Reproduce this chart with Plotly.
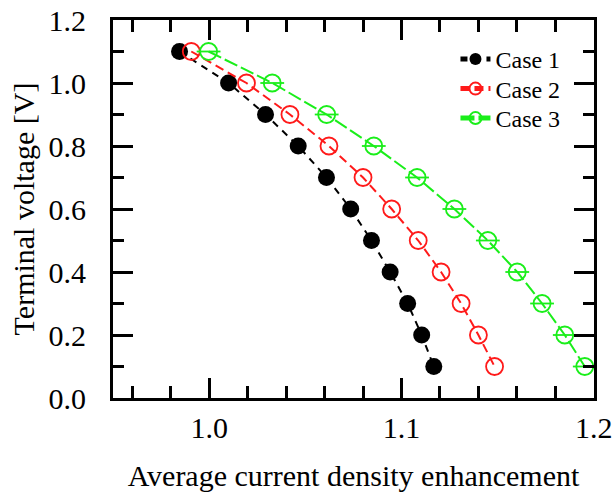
import plotly.graph_objects as go

voltage = [1.1, 1.0, 0.9, 0.8, 0.7, 0.6, 0.5, 0.4, 0.3, 0.2, 0.1]
case1 = [0.9846, 1.0101, 1.0293, 1.0463, 1.0610, 1.0736, 1.0844, 1.0941, 1.1032, 1.1105, 1.1168]
case2 = [0.9907, 1.0194, 1.0420, 1.0623, 1.0800, 1.0949, 1.1087, 1.1206, 1.1310, 1.1400, 1.1484]
case3 = [0.9997, 1.0328, 1.0611, 1.0856, 1.1081, 1.1275, 1.1449, 1.1602, 1.1731, 1.1849, 1.1953]

FONT = "Liberation Serif"

fig = go.Figure()
fig.add_trace(go.Scatter(
    x=case1, y=voltage, name="Case 1", mode="lines+markers", legend="legend",
    line=dict(color="black", width=2, dash="7px,6px"),
    marker=dict(symbol="circle", size=17, color="black"),
))
fig.add_trace(go.Scatter(
    x=case2, y=voltage, name="Case 2", mode="lines+markers", legend="legend2",
    line=dict(color="#ff1a1a", width=2, dash="9px,5px"),
    marker=dict(symbol="circle-open", size=17, color="#ff1a1a", line=dict(width=1.8)),
))
fig.add_trace(go.Scatter(
    x=case3, y=voltage, name="Case 3", mode="lines+markers", legend="legend3",
    line=dict(color="#1aee1a", width=2, dash="14px,4px"),
    marker=dict(symbol="circle-open", size=17, color="#1aee1a", line=dict(width=1.8)),
))
fig.add_trace(go.Scatter(
    x=case3, y=voltage, name="Case 3", mode="markers", showlegend=False,
    marker=dict(symbol="line-ew-open", size=17, color="#1aee1a", line=dict(width=1.8, color="#1aee1a")),
))

axis_common = dict(
    showline=True, linecolor="black", linewidth=3, mirror="ticks",
    ticks="inside", ticklen=20, tickwidth=3, tickcolor="black",
    showgrid=False, zeroline=False, automargin=False,
    ticklabeloverflow="allow",
    tickfont=dict(family=FONT, size=30, color="black"),
)

fig.update_xaxes(
    range=[0.95, 1.2001], tickvals=[1.0, 1.1, 1.2], ticktext=["1.0", "1.1", "1.2"],
    minor=dict(dtick=0.02, tick0=0.0, ticks="inside", ticklen=12, tickwidth=3, tickcolor="black"),
    title=dict(text="Average current density enhancement", font=dict(family=FONT, size=30, color="black"), standoff=23),
    ticklabelstandoff=1,
    **axis_common,
)
fig.update_yaxes(
    range=[0.0, 1.2], dtick=0.2, tick0=0, tickformat=".1f",
    minor=dict(dtick=0.1, tick0=0.0, ticks="inside", ticklen=11, tickwidth=3, tickcolor="black"),
    title=dict(text="Terminal voltage [V]", font=dict(family=FONT, size=30, color="black"), standoff=6),
    ticklabelstandoff=18,
    **axis_common,
)

leg = dict(
    x=0.712, xanchor="left", yanchor="top",
    bgcolor="rgba(0,0,0,0)", font=dict(family=FONT, size=24, color="black"),
    itemsizing="constant", tracegroupgap=0,
)

fig.update_layout(
    width=612, height=492,
    margin=dict(l=113, r=18, t=20, b=94),
    paper_bgcolor="white", plot_bgcolor="white",
    font=dict(family=FONT, size=24, color="black"),
    legend=dict(leg, y=0.955),
    legend2=dict(leg, y=0.877),
    legend3=dict(leg, y=0.799),
)

fig.write_html("out.html")
